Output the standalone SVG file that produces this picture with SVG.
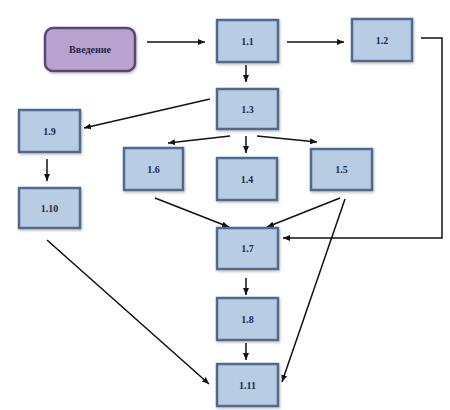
<svg xmlns="http://www.w3.org/2000/svg" width="450" height="410" viewBox="0 0 450 410">
<defs>
<marker id="ah" markerWidth="8" markerHeight="8" refX="7" refY="4" orient="auto" markerUnits="userSpaceOnUse">
<path d="M0,1 L7,4 L0,7 Z" fill="#111"/>
</marker>
<filter id="sh" x="-10%" y="-10%" width="130%" height="130%">
<feDropShadow dx="1" dy="1.5" stdDeviation="1" flood-color="#000" flood-opacity="0.25"/>
</filter>
<style>
.box{fill:#b8cce4;stroke:#4f6a8c;stroke-width:2.5;filter:url(#sh)}
.intro{fill:#b9a2cf;stroke:#5a4670;stroke-width:2.5;filter:url(#sh)}
.lbl{font-family:"Liberation Serif",serif;font-size:10px;font-weight:bold;fill:#1f2a44;text-anchor:middle;dominant-baseline:central}
.c{fill:none;stroke:#111;stroke-width:1.5;marker-end:url(#ah)}
</style>
</defs>
<rect width="450" height="410" fill="#fff"/>
<g id="connectors">
<line class="c" x1="147" y1="42" x2="205" y2="42"/>
<line class="c" x1="287" y1="42" x2="344" y2="42"/>
<path class="c" d="M421,38 H442 V238 H283"/>
<line class="c" x1="246" y1="65" x2="246" y2="82"/>
<line class="c" x1="210" y1="99" x2="84" y2="128"/>
<line class="c" x1="47" y1="159" x2="47" y2="181"/>
<line class="c" x1="230" y1="136" x2="168" y2="143"/>
<line class="c" x1="246" y1="136" x2="246" y2="153"/>
<line class="c" x1="257" y1="136" x2="317" y2="142"/>
<line class="c" x1="155" y1="198" x2="229" y2="227"/>
<line class="c" x1="340" y1="198" x2="267" y2="227"/>
<line class="c" x1="345" y1="199" x2="282" y2="382"/>
<line class="c" x1="246" y1="278" x2="246" y2="295"/>
<line class="c" x1="246" y1="343" x2="246" y2="360"/>
<line class="c" x1="47" y1="240" x2="209" y2="384"/>
</g>
<g id="intro"><rect class="intro" x="45" y="28" width="90" height="43" rx="8"/><text class="lbl" x="90" y="49.5" font-size="9">Введение</text></g>
<g id="n1_1"><rect class="box" x="217" y="20" width="61" height="42"/><text class="lbl" x="247.5" y="41">1.1</text></g>
<g id="n1_2"><rect class="box" x="352" y="19" width="60" height="42"/><text class="lbl" x="382" y="40">1.2</text></g>
<g id="n1_3"><rect class="box" x="217" y="89" width="61" height="40"/><text class="lbl" x="247.5" y="109">1.3</text></g>
<g id="n1_9"><rect class="box" x="19" y="110" width="61" height="42"/><text class="lbl" x="49.5" y="131">1.9</text></g>
<g id="n1_10"><rect class="box" x="19" y="188" width="61" height="40"/><text class="lbl" x="49.5" y="208">1.10</text></g>
<g id="n1_6"><rect class="box" x="124" y="148" width="59" height="42"/><text class="lbl" x="153.5" y="169">1.6</text></g>
<g id="n1_4"><rect class="box" x="217" y="158" width="60" height="42"/><text class="lbl" x="247" y="179">1.4</text></g>
<g id="n1_5"><rect class="box" x="311" y="149" width="61" height="41"/><text class="lbl" x="341.5" y="169.5">1.5</text></g>
<g id="n1_7"><rect class="box" x="217" y="228" width="61" height="41"/><text class="lbl" x="247.5" y="248.5">1.7</text></g>
<g id="n1_8"><rect class="box" x="217" y="298" width="61" height="42"/><text class="lbl" x="247.5" y="319">1.8</text></g>
<g id="n1_11"><rect class="box" x="217" y="364" width="61" height="42"/><text class="lbl" x="247.5" y="385">1.11</text></g>
</svg>
